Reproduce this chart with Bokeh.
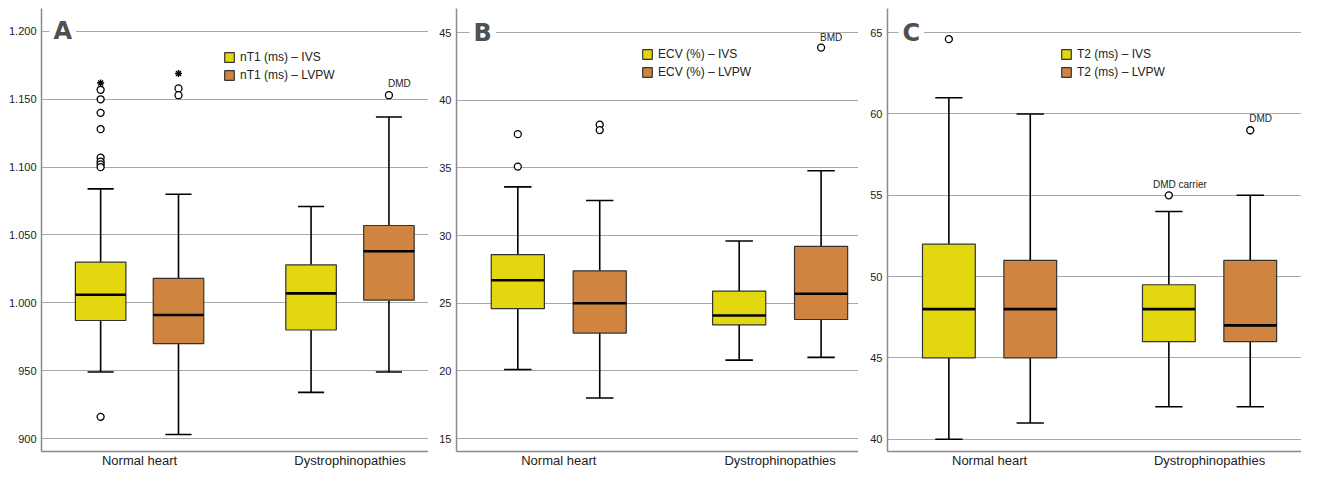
from bokeh.plotting import figure
from bokeh.models import (ColumnDataSource, FixedTicker, Legend, LegendItem, Label, Range1d)
from bokeh.layouts import row
from bokeh.embed import file_html
from bokeh.resources import INLINE
from bokeh.core.properties import value

# ---------------- data ----------------
groups = ["Normal heart", "Dystrophinopathies"]
group_pos = [1, 2]

# Panel A: nT1 (ms)
nt1_ivs_low = [949, 934]
nt1_ivs_q1 = [987, 980]
nt1_ivs_med = [1006, 1007]
nt1_ivs_q3 = [1030, 1028]
nt1_ivs_high = [1084, 1071]
nt1_lvpw_low = [903, 949]
nt1_lvpw_q1 = [970, 1002]
nt1_lvpw_med = [991, 1038]
nt1_lvpw_q3 = [1018, 1057]
nt1_lvpw_high = [1080, 1137]
nt1_ivs_out_normal = [1157, 1150, 1140, 1128, 1107, 1104, 1102, 1100, 916]
nt1_ivs_out_dys = []
nt1_ivs_ext_normal = [1162]
nt1_lvpw_out_normal = [1158, 1153]
nt1_lvpw_out_dys = [1153]
nt1_lvpw_ext_normal = [1169]
nt1_ticks = [900, 950, 1000, 1050, 1100, 1150, 1200]
nt1_tick_labels = ["900", "950", "1.000", "1.050", "1.100", "1.150", "1.200"]

# Panel B: ECV (%)
ecv_ivs_low = [20.1, 20.8]
ecv_ivs_q1 = [24.6, 23.4]
ecv_ivs_med = [26.7, 24.1]
ecv_ivs_q3 = [28.6, 25.9]
ecv_ivs_high = [33.6, 29.6]
ecv_lvpw_low = [18.0, 21.0]
ecv_lvpw_q1 = [22.8, 23.8]
ecv_lvpw_med = [25.0, 25.7]
ecv_lvpw_q3 = [27.4, 29.2]
ecv_lvpw_high = [32.6, 34.8]
ecv_ivs_out_normal = [37.5, 35.1]
ecv_ivs_out_dys = []
ecv_lvpw_out_normal = [38.2, 37.8]
ecv_lvpw_out_dys = [43.9]
ecv_ticks = [15, 20, 25, 30, 35, 40, 45]
ecv_tick_labels = ["15", "20", "25", "30", "35", "40", "45"]

# Panel C: T2 (ms)
t2_ivs_low = [40, 42]
t2_ivs_q1 = [45, 46]
t2_ivs_med = [48, 48]
t2_ivs_q3 = [52, 49.5]
t2_ivs_high = [61, 54]
t2_lvpw_low = [41, 42]
t2_lvpw_q1 = [45, 46]
t2_lvpw_med = [48, 47]
t2_lvpw_q3 = [51, 51]
t2_lvpw_high = [60, 55]
t2_ivs_out_normal = [64.6]
t2_ivs_out_dys = [55]
t2_lvpw_out_normal = []
t2_lvpw_out_dys = [59]
t2_ticks = [40, 45, 50, 55, 60, 65]
t2_tick_labels = ["40", "45", "50", "55", "60", "65"]

# ---------------- style ----------------
YELLOW = "#e3d80f"
ORANGE = "#cf8540"
FONT = "Liberation Sans"
OFF = 0.185
BOXW = 0.24
CAPW = 0.124


def make_panel(letter, letter_x, yr, xr, ticks, tick_labels, ivs, lvpw,
               outs, exts, notes, leg_labels, leg_loc, w, border_left, border_right):
    p = figure(width=w, height=470, output_backend="svg", toolbar_location=None,
               x_range=Range1d(*xr), y_range=Range1d(*yr),
               min_border_left=border_left, min_border_right=border_right,
               min_border_top=8, min_border_bottom=17)
    p.outline_line_color = None
    p.background_fill_color = "white"
    p.border_fill_color = "white"
    p.xgrid.grid_line_color = None
    p.ygrid.grid_line_color = "#a8a8a8"
    p.ygrid.grid_line_width = 1
    p.yaxis.ticker = FixedTicker(ticks=ticks)
    p.yaxis.major_label_overrides = {t: l for t, l in zip(ticks, tick_labels)}
    p.xaxis.ticker = FixedTicker(ticks=group_pos)
    p.xaxis.major_label_overrides = {g: n for g, n in zip(group_pos, groups)}
    for ax in (p.xaxis, p.yaxis):
        ax.axis_line_color = "#8a8a8a"
        ax.axis_line_width = 1.5
        ax.major_tick_line_color = None
        ax.minor_tick_line_color = None
        ax.major_tick_out = 0
        ax.major_tick_in = 0
        ax.minor_tick_out = 0
        ax.minor_tick_in = 0
        ax.major_label_text_font = FONT
        ax.major_label_text_color = "#222222"
    p.yaxis.major_label_text_font_size = "11px"
    p.yaxis.major_label_standoff = 5
    p.xaxis.major_label_text_font_size = "13px"
    p.xaxis.major_label_standoff = 1

    renderers = []
    for (low, q1, med, q3, high), off, col in ((ivs, -OFF, YELLOW), (lvpw, OFF, ORANGE)):
        xs = [g + off for g in group_pos]
        src = ColumnDataSource(dict(x=xs, low=low, q1=q1, med=med, q3=q3, high=high,
                                    cl=[x - CAPW / 2 for x in xs], cr=[x + CAPW / 2 for x in xs],
                                    bl=[x - BOXW / 2 for x in xs], br=[x + BOXW / 2 for x in xs]))
        p.segment(x0="x", y0="q3", x1="x", y1="high", source=src, line_color="black", line_width=1.6)
        p.segment(x0="x", y0="q1", x1="x", y1="low", source=src, line_color="black", line_width=1.6)
        p.segment(x0="cl", y0="high", x1="cr", y1="high", source=src, line_color="black", line_width=1.6)
        p.segment(x0="cl", y0="low", x1="cr", y1="low", source=src, line_color="black", line_width=1.6)
        r = p.vbar(x="x", width=BOXW, top="q3", bottom="q1", source=src,
                   fill_color=col, line_color="#333333", line_width=1.2)
        p.segment(x0="bl", y0="med", x1="br", y1="med", source=src, line_color="black", line_width=2.6)
        renderers.append(r)

    # outliers (circles) and extremes (stars)
    for vals, gi, off in outs:
        if vals:
            p.scatter([group_pos[gi] + off] * len(vals), vals, marker="circle", size=7,
                      fill_color="white", line_color="black", line_width=1.3)
    for vals, gi, off in exts:
        if vals:
            p.scatter([group_pos[gi] + off] * len(vals), vals, marker="asterisk", size=7,
                      line_color="black", line_width=1.4)
    for txt, vals, gi, off, dx, dy, align in notes:
        p.text([group_pos[gi] + off], [vals[0]], text=[txt], x_offset=dx, y_offset=dy,
               text_align=align, text_baseline="bottom", text_font=value(FONT),
               text_font_size="10px", text_color="#222222")

    legend = Legend(items=[LegendItem(label=leg_labels[0], renderers=[renderers[0]]),
                           LegendItem(label=leg_labels[1], renderers=[renderers[1]])],
                    location=leg_loc, orientation="vertical",
                    glyph_width=12, glyph_height=12, label_height=12, label_standoff=5,
                    spacing=4, padding=0, margin=0,
                    border_line_color=None, background_fill_alpha=0,
                    label_text_font=FONT, label_text_font_size="12px", label_text_color="#222222")
    p.add_layout(legend)

    lab = Label(x=letter_x, x_units="screen", y=ticks[-1], y_units="data", text=letter,
                text_font="DejaVu Sans", text_font_style="bold", text_font_size="24px",
                text_color="#505050", text_baseline="middle", text_align="left",
                background_fill_color="white", padding=4)
    p.add_layout(lab)
    return p


pA = make_panel("A", 8, (890.46, 1216.9), (0.534, 2.373), nt1_ticks, nt1_tick_labels,
                (nt1_ivs_low, nt1_ivs_q1, nt1_ivs_med, nt1_ivs_q3, nt1_ivs_high),
                (nt1_lvpw_low, nt1_lvpw_q1, nt1_lvpw_med, nt1_lvpw_q3, nt1_lvpw_high),
                [(nt1_ivs_out_normal, 0, -OFF), (nt1_lvpw_out_normal, 0, OFF),
                 (nt1_ivs_out_dys, 1, -OFF), (nt1_lvpw_out_dys, 1, OFF)],
                [(nt1_ivs_ext_normal, 0, -OFF), (nt1_lvpw_ext_normal, 0, OFF)],
                [("DMD", nt1_lvpw_out_dys, 1, OFF, -1, -6, "left")],
                ["nT1 (ms) \u2013 IVS", "nT1 (ms) \u2013 LVPW"], (182, 369),
                428, 41, 0)

pB = make_panel("B", 13, (14.043, 46.788), (0.538, 2.354), ecv_ticks, ecv_tick_labels,
                (ecv_ivs_low, ecv_ivs_q1, ecv_ivs_med, ecv_ivs_q3, ecv_ivs_high),
                (ecv_lvpw_low, ecv_lvpw_q1, ecv_lvpw_med, ecv_lvpw_q3, ecv_lvpw_high),
                [(ecv_ivs_out_normal, 0, -OFF), (ecv_lvpw_out_normal, 0, OFF),
                 (ecv_ivs_out_dys, 1, -OFF), (ecv_lvpw_out_dys, 1, OFF)],
                [],
                [("BMD", ecv_lvpw_out_dys, 1, OFF, -1, -5, "left")],
                ["ECV (%) \u2013 IVS", "ECV (%) \u2013 LVPW"], (185, 372),
                430, 28, 0)

pC = make_panel("C", 11, (39.247, 66.487), (0.536, 2.418), t2_ticks, t2_tick_labels,
                (t2_ivs_low, t2_ivs_q1, t2_ivs_med, t2_ivs_q3, t2_ivs_high),
                (t2_lvpw_low, t2_lvpw_q1, t2_lvpw_med, t2_lvpw_q3, t2_lvpw_high),
                [(t2_ivs_out_normal, 0, -OFF), (t2_lvpw_out_normal, 0, OFF),
                 (t2_ivs_out_dys, 1, -OFF), (t2_lvpw_out_dys, 1, OFF)],
                [],
                [("DMD carrier", t2_ivs_out_dys, 1, -OFF, 11, -5, "center"),
                 ("DMD", t2_lvpw_out_dys, 1, OFF, -1, -6, "left")],
                ["T2 (ms) \u2013 IVS", "T2 (ms) \u2013 LVPW"], (173, 372),
                443, 29, 0)

layout = row(pA, pB, pC)
open("out.html", "w").write(file_html(layout, INLINE))
